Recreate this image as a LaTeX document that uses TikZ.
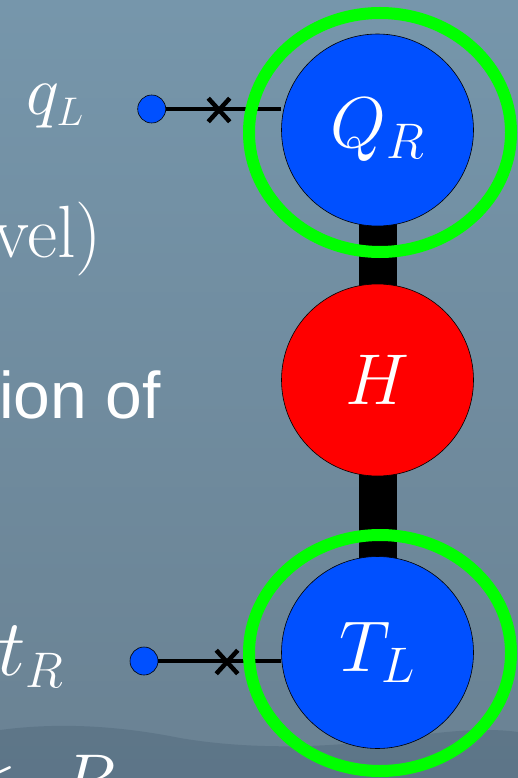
\RequirePackage{fix-cm}
\documentclass[tikz,border=0pt]{standalone}
\usepackage{fontspec}
\newfontfamily\sansf{Liberation Sans}
\usetikzlibrary{shapes.misc}
\DeclareMathSizes{72}{72}{50}{36}
\DeclareMathSizes{70}{70}{40}{30}
\DeclareMathSizes{80}{80}{50}{36}
\definecolor{bgtop}{RGB}{118,150,171}
\definecolor{bgmid}{RGB}{122,147,165}
\definecolor{bgbot}{RGB}{106,130,147}
\definecolor{hill}{RGB}{84,108,127}
\definecolor{nodeblue}{RGB}{0,80,255}
\definecolor{nodered}{RGB}{255,0,0}
\definecolor{ringgreen}{RGB}{0,255,0}
\tikzset{
  ball/.style={circle, draw=black, line width=0.6pt, minimum size=192pt, inner sep=0pt,
    text=white, font=\fontsize{72}{80}\selectfont},
  dotnode/.style={circle, draw=black, line width=0.6pt, fill=nodeblue, minimum size=28pt, inner sep=0pt},
  ring/.style={draw=ringgreen, line width=12pt},
  link/.style={draw=black, line width=3.5pt},
  bar/.style={draw=black, line width=38pt},
  xmark/.style={cross out, draw=black, line width=4.5pt, minimum width=17pt, minimum height=19pt, inner sep=0pt},
  lbl/.style={text=white, inner sep=0pt}
}
\begin{document}
\begin{tikzpicture}[x=1pt,y=-1pt]
\useasboundingbox (0,0) rectangle (518,778);
\clip (0,0) rectangle (518,778);
% background
\shade[top color=bgtop, middle color=bgmid, bottom color=bgbot] (0,0) rectangle (518,778);
\fill[hill, opacity=0.55] (0,730) .. controls (60,722) and (120,726) .. (180,738)
  .. controls (250,750) and (330,748) .. (400,738)
  .. controls (450,730) and (490,728) .. (518,732) -- (518,778) -- (0,778) -- cycle;
% centres
\coordinate (cq) at (377.5,130);
\coordinate (ch) at (377.5,380);
\coordinate (ct) at (377.5,652.5);
% bar behind the balls
\draw[bar] (cq) -- (ct);
% balls
\node[ball, fill=nodeblue] (Q) at (cq) {$Q_R$};
\node[ball, fill=nodered] (H) at (ch) {$H$};
\node[ball, fill=nodeblue] (T) at (ct) {$T_L$};
% side legs
\node[dotnode] (d1) at (151.7,109) {};
\node[dotnode] (d2) at (144,661) {};
\draw[link] (d1) -- (d1 -| Q.west);
\draw[link] (d2) -- (d2 -| T.west);
\node[xmark] (x1) at (219,110) {};
\node[xmark] (x2) at (227,662) {};
% green rings
\draw[ring] (380,132.5) ellipse [x radius=131, y radius=119.5];
\draw[ring] (380,653) ellipse [x radius=131, y radius=118];
% text on the left
\node[lbl, anchor=base east, font=\fontsize{70}{80}\selectfont] (tq) at (84,115) {$q_L$};
\node[lbl, anchor=base east, font=\fontsize{74}{80}\selectfont] (tv) at (102,257) {vel)};
\node[lbl, anchor=base east, font=\sansf\fontsize{66}{72}\selectfont] (ti) at (161,418) {ion of};
\node[lbl, anchor=base east, font=\fontsize{80}{88}\selectfont] (tt) at (64,675) {$t_R$};
\node[lbl, anchor=base east, font=\fontsize{72}{80}\selectfont] (tr) at (116,804) {$<\mkern6mu R$};
\end{tikzpicture}
\end{document}
